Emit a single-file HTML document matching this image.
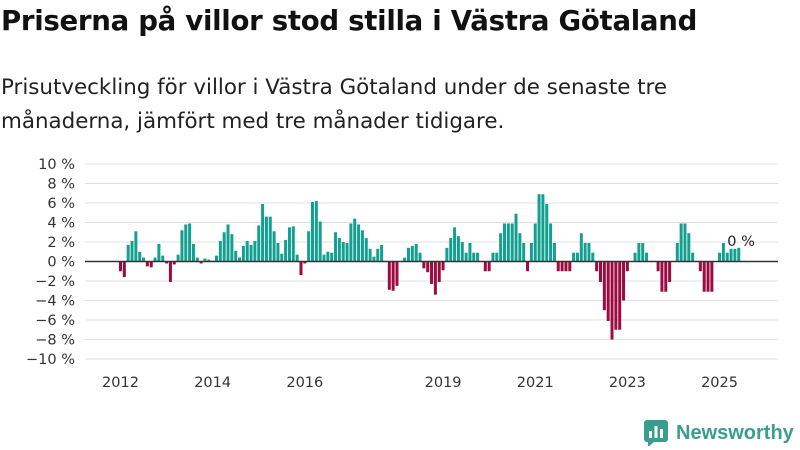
<!DOCTYPE html>
<html><head><meta charset="utf-8"><style>
body{margin:0;background:#fff;font-family:"DejaVu Sans",sans-serif;}
#wrap{position:relative;width:800px;height:450px;overflow:hidden;}
h1{position:absolute;left:1px;top:4px;margin:0;font-size:27.6px;font-weight:bold;color:#111;letter-spacing:-0.3px;white-space:nowrap;}
p.sub{position:absolute;left:1px;top:71px;margin:0;font-size:21.4px;line-height:34px;color:#222;width:790px;white-space:nowrap;}
svg text{font-family:"DejaVu Sans",sans-serif;}
</style></head><body>
<div id="wrap">
<h1>Priserna på villor stod stilla i Västra Götaland</h1>
<p class="sub">Prisutveckling för villor i Västra Götaland under de senaste tre<br>månaderna, jämfört med tre månader tidigare.</p>
<svg id="chart" width="800" height="450" style="position:absolute;left:0;top:0"></svg>
<div style="position:absolute;left:644px;top:420px;display:flex;align-items:center;">
<svg width="24" height="26"><rect x="0" y="0" width="24" height="22" rx="3" fill="#3a9e8e"/><polygon points="4,22 10,22 4,27" fill="#3a9e8e"/><rect x="5" y="11" width="3" height="7" fill="#fff"/><rect x="10.5" y="6" width="3" height="12" fill="#fff"/><rect x="16" y="9" width="3" height="9" fill="#fff"/></svg>
<span style="margin-left:8px;font-size:20px;font-weight:bold;color:#3a9e8e;font-family:'Liberation Sans',sans-serif;">Newsworthy</span></div>
</div>
<script>
const values=[-1.0,-1.6,1.7,2.1,3.1,1.0,0.4,-0.5,-0.6,0.4,1.8,0.6,-0.2,-2.1,-0.3,0.7,3.2,3.8,3.9,1.8,0.4,-0.2,0.3,0.2,0.1,0.6,2.1,3.0,3.8,2.8,1.1,0.4,1.6,2.1,1.7,2.1,
3.7,5.9,4.6,4.6,3.1,1.9,0.8,2.2,3.5,3.6,0.7,-1.4,-0.2,3.1,6.1,6.2,4.1,0.7,1.0,0.9,3.0,2.4,2.0,1.9,3.9,4.4,3.8,3.2,2.4,1.3,0.5,1.3,1.7,0,-2.9,-3.0,-2.5,0,0.4,1.4,1.6,1.8,0.9,-0.7,-1.1,
-2.3,-3.4,-2.1,-0.9,1.4,2.4,3.5,2.6,2.0,0.9,1.9,0.9,0.9,0,-1.0,-1.0,0.9,0.9,2.9,3.9,3.9,3.9,4.9,2.9,1.9,-1.0,1.9,3.9,6.9,6.9,5.9,3.9,1.9,-1.0,-1.0,-1.0,-1.0,0.9,0.9,2.9,1.9,1.9,
0.9,-1.0,-2.1,-5.0,-6.1,-8.0,-7.0,-7.0,-4.0,-1.0,0,0.9,1.9,1.9,0.9,0,0,-1.0,-3.1,-3.1,-2.1,0,1.9,3.9,3.9,2.9,0.9,0,-1.0,-3.1,-3.1,-3.1,0,0.9,1.9,0.9,1.3,1.3,1.4];
const yTicks=[10,8,6,4,2,0,-2,-4,-6,-8,-10];
const xTickLabels=["2012","2014","2016","2019","2021","2023","2025"];
const xTickIndex=[0,24,48,84,108,132,156];
const lastLabel="0 %";
const NS="http://www.w3.org/2000/svg";
const svg=document.getElementById('chart');
const x0=119,x1=778,pitch=3.84;
function y(v){return 261.5-v*9.75;}
function xb(i){return x0+i*pitch;}
function mk(t,a){const e=document.createElementNS(NS,t);for(const k in a)e.setAttribute(k,a[k]);svg.appendChild(e);return e;}
yTicks.forEach(t=>{
 const g=mk('line',{x1:85,x2:x1,y1:y(t),y2:y(t),stroke:'#e0e0e0','stroke-width':1});
 
 
 const tx=mk('text',{x:75,y:y(t)+5,'text-anchor':'end','font-size':14.5,fill:'#333'});
 tx.textContent=(t<0?'−'+Math.abs(t):t)+' %';
 
 
});
values.forEach((v,i)=>{
 const r=mk('rect',{x:xb(i),width:3,y:v>=0?y(v):y(0),height:Math.abs(y(v)-y(0)),fill:v>=0?'#13a090':'#9c0b40'});
 
 
});
const zl=mk('line',{x1:85,x2:x1,y1:y(0),y2:y(0),stroke:'#333','stroke-width':1.5});


xTickLabels.forEach((l,k)=>{
 const t=mk('text',{x:xb(xTickIndex[k])+1.5,y:387,'text-anchor':'middle','font-size':14.5,fill:'#333'});
 t.textContent=l;
 
 
});
const ll=mk('text',{x:xb(values.length-1)-10,y:246,'font-size':14.5,fill:'#222'});
ll.textContent=lastLabel;


</script>
</body></html>
